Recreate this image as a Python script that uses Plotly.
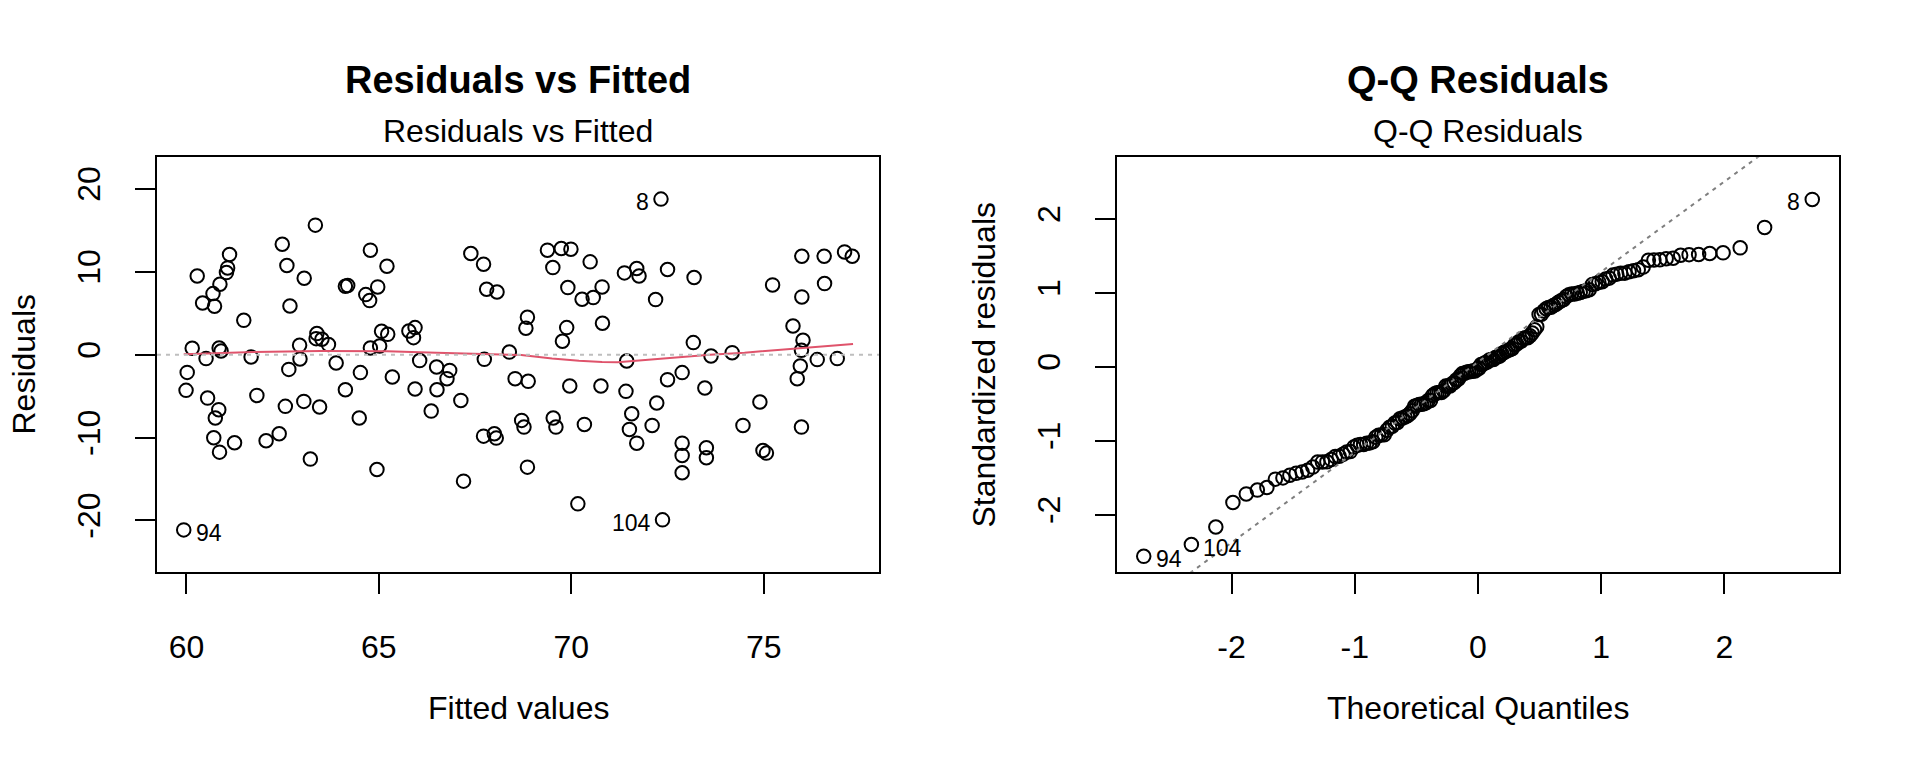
import numpy as np
import plotly.graph_objects as go
from statistics import NormalDist

# ---------------------------------------------------------------------------
# data read off the picture (one value per observation, observation order)
# ---------------------------------------------------------------------------
fitted_values = [
    60.28, 61.12, 61.07, 61.04, 60.87, 60.69, 60.42, 72.33, 60.73, 61.49,
    62.49, 62.61, 63.06, 62.69, 63.35, 64.78, 65.21, 64.13, 64.19, 64.66,
    64.76, 64.97, 60.15, 60.85, 60.90, 60.51, 61.68, 62.94, 62.95, 63.39,
    63.37, 63.52, 63.69, 63.89, 62.66, 64.78, 65.02, 65.07, 65.23, 65.78,
    65.94, 65.90, 66.06, 64.52, 65.35, 60.02, 59.99, 60.55, 60.84, 60.75,
    60.71, 60.86, 61.25, 61.83, 62.57, 63.05, 63.46, 64.13, 64.49, 62.41,
    62.07, 63.22, 64.95, 65.94, 66.36, 66.50, 66.51, 66.84, 66.77, 67.13,
    67.39, 67.72, 67.80, 68.07, 68.86, 68.82, 68.39, 67.74, 68.54, 68.88,
    68.71, 68.77, 67.72, 68.00, 68.05, 68.86, 69.38, 69.74, 69.99, 69.52,
    70.49, 69.91, 70.28, 59.93, 70.57, 70.80, 70.81, 69.88, 69.77, 69.96,
    70.77, 69.53, 69.60, 72.37, 70.34, 71.38, 71.70, 71.76, 72.50, 73.19,
    72.19, 71.44, 73.17, 73.63, 74.18, 72.88, 72.50, 73.47, 71.42, 72.22,
    71.57, 71.51, 71.70, 72.10, 72.88, 72.88, 72.88, 73.51, 73.51, 74.46,
    75.99, 76.57, 77.10, 77.30, 75.23, 76.58, 75.99, 75.76, 76.02, 75.98,
    75.95, 75.87, 76.39, 76.91, 74.90, 75.98, 67.20, 70.17, 74.98, 75.07,
]
residuals = [
    9.49, 12.08, 10.46, 9.90, 8.49, 7.36, 6.23, 18.76, 5.83, 4.14,
    13.32, 10.75, 9.21, 5.87, 15.62, 12.60, 10.66, 8.25, 8.33, 7.24,
    6.52, 8.17, 0.76, 0.80, 0.44, -0.48, -0.29, 1.12, -0.53, 2.54,
    1.93, 1.85, 1.21, -1.01, -1.78, 0.80, 1.04, 2.81, 2.45, 2.85,
    3.26, 2.05, -0.72, -2.17, -2.70, -2.14, -4.31, -5.24, -6.64, -7.65,
    -10.03, -11.76, -10.63, -4.92, -6.24, -5.64, -6.32, -4.23, -7.65, -9.54,
    -10.39, -12.60, -13.85, -4.15, -6.81, -1.49, -4.23, -1.90, -2.90, -5.52,
    12.20, 10.90, 7.89, 7.56, 4.50, 3.18, 0.31, -0.57, -2.90, -3.22,
    -7.93, -8.74, -9.83, -9.54, -10.07, -13.57, 12.60, 12.80, 12.72, 10.50,
    11.19, 8.09, 6.68, -21.14, 6.88, 8.17, 3.78, 3.26, 1.61, -3.79,
    -3.79, -7.65, -8.74, -19.93, -8.42, 9.86, 10.39, 9.49, 10.27, 9.30,
    6.64, -0.77, 1.45, -0.17, 0.24, -2.17, -3.02, -4.03, -4.43, -5.84,
    -7.13, -9.02, -10.68, -8.54, -10.68, -12.16, -14.25, -11.23, -12.44, -8.54,
    11.87, 11.87, 12.39, 11.87, 8.41, 8.57, 6.96, 3.46, 1.73, 0.52,
    -1.37, -2.90, -0.60, -0.48, -5.72, -8.74, -15.26, -18.00, -11.56, -11.88,
]

# red smoother as drawn in the picture
smooth_x = [59.93, 61.0, 61.75, 63.48, 65.21, 66.5, 67.7, 68.7, 69.5, 70.2,
            70.8, 71.2, 71.6, 72.6, 73.6, 74.5, 75.9, 77.32]
smooth_y = [0.05, 0.2, 0.32, 0.43, 0.4, 0.24, 0.12, -0.05, -0.48, -0.75,
            -0.89, -0.93, -0.77, -0.36, 0.0, 0.24, 0.72, 1.28]

fit_ticks = [60, 65, 70, 75]
res_ticks = [-20, -10, 0, 10, 20]
qq_ticks = [-2, -1, 0, 1, 2]

FONT = "Liberation Sans, Arial, Helvetica, sans-serif"
BASE = 32
RED = "#DF536B"

# ---------------------------------------------------------------------------
# derived quantities (as plot.lm does)
# ---------------------------------------------------------------------------
f = np.array(fitted_values)
r = np.array(residuals)
n = len(r)
s = np.sqrt(np.sum(r ** 2) / (n - 2))
hat = 1 / n + (f - f.mean()) ** 2 / np.sum((f - f.mean()) ** 2)
rs = r / (s * np.sqrt(1 - hat))

order = np.argsort(rs)
nd = NormalDist()
theo = np.empty(n)
theo[order] = [nd.inv_cdf((i + 0.5) / n) for i in range(n)]

q1, q3 = np.percentile(rs, [25, 75])
z1, z3 = nd.inv_cdf(0.25), nd.inv_cdf(0.75)
qq_slope = (q3 - q1) / (z3 - z1)
qq_int = q1 - qq_slope * z1

ids = np.argsort(-np.abs(rs))[:3]


def ext(lo, hi, frac=0.04):
    d = hi - lo
    return [lo - frac * d, hi + frac * d]


x1r = ext(f.min(), f.max())
lo, hi = r.min(), r.max()
y1r = ext(lo - 0.08 * (hi - lo), hi + 0.08 * (hi - lo))
x2r = ext(theo.min(), theo.max())
y2r = ext(rs.min(), rs.max() + 0.075 * (rs.max() - rs.min()))

# ---------------------------------------------------------------------------
fig = go.Figure()
circ = dict(symbol="circle-open", size=13.5, color="black", line=dict(width=2))

fig.add_trace(go.Scatter(x=fitted_values, y=residuals, mode="markers", marker=circ,
                         xaxis="x", yaxis="y", hoverinfo="skip"))
fig.add_trace(go.Scatter(x=smooth_x, y=smooth_y, mode="lines",
                         line=dict(color=RED, width=2), xaxis="x", yaxis="y"))
fig.add_trace(go.Scatter(x=theo, y=rs, mode="markers", marker=circ,
                         xaxis="x2", yaxis="y2", hoverinfo="skip"))
qx = np.array([x2r[0] - 1, x2r[1] + 1])
fig.add_trace(go.Scatter(x=qx, y=qq_int + qq_slope * qx, mode="lines",
                         line=dict(color="#7F7F7F", width=2, dash="4px,5px"),
                         xaxis="x2", yaxis="y2"))

fig.add_shape(type="line", xref="x domain", yref="y", x0=0, x1=1, y0=0, y1=0,
              line=dict(color="#BEBEBE", width=2, dash="4px,5px"))

ann = []
mid1 = sum(x1r) / 2
for i in ids:
    left = f[i] > mid1
    ann.append(dict(x=f[i], y=r[i], xref="x", yref="y", text=str(i + 1), showarrow=False,
                    xanchor="right" if left else "left", xshift=-10 if left else 10, yshift=-3,
                    font=dict(size=23)))
    left = theo[i] > 0
    ann.append(dict(x=theo[i], y=rs[i], xref="x2", yref="y2", text=str(i + 1), showarrow=False,
                    xanchor="right" if left else "left", xshift=-10 if left else 10, yshift=-3,
                    font=dict(size=23)))

W, H = 1920, 768
px1 = [157 / W, 879 / W]
px2 = [1117 / W, 1839 / W]
py = [(H - 571.7) / H, (H - 157.3) / H]
for dom, main, xt in ((px1, "Residuals vs Fitted", "Fitted values"),
                      (px2, "Q-Q Residuals", "Theoretical Quantiles")):
    c = sum(dom) / 2
    ann.append(dict(x=c, y=(H - 80) / H, xref="paper", yref="paper", text=f"<b>{main}</b>",
                    showarrow=False, font=dict(size=38), xanchor="center", yanchor="middle"))
    ann.append(dict(x=c, y=(H - 131) / H, xref="paper", yref="paper", text=main,
                    showarrow=False, font=dict(size=BASE), xanchor="center", yanchor="middle"))
    ann.append(dict(x=c, y=(H - 708) / H, xref="paper", yref="paper", text=xt,
                    showarrow=False, font=dict(size=BASE), xanchor="center", yanchor="middle"))
ycen = sum(py) / 2
ann.append(dict(x=23 / W, y=ycen, xref="paper", yref="paper", text="Residuals", textangle=-90,
                showarrow=False, font=dict(size=BASE), xanchor="center", yanchor="middle"))
ann.append(dict(x=983 / W, y=ycen, xref="paper", yref="paper", text="Standardized residuals",
                textangle=-90, showarrow=False, font=dict(size=BASE), xanchor="center",
                yanchor="middle"))

ax = dict(showline=True, linecolor="black", linewidth=2, mirror=True, ticks="outside",
          ticklen=20, tickwidth=2, tickcolor="black", showgrid=False, zeroline=False,
          tickfont=dict(size=BASE, color="black"))


def lab(v):
    return [str(t) for t in v]


fig.update_layout(
    width=W, height=H, margin=dict(l=0, r=0, t=0, b=0),
    paper_bgcolor="white", plot_bgcolor="white", showlegend=False,
    font=dict(family=FONT, color="black"),
    xaxis=dict(ax, domain=px1, range=x1r, tickvals=fit_ticks, ticktext=lab(fit_ticks),
               anchor="y", ticklabelstandoff=26),
    yaxis=dict(ax, domain=py, range=y1r, tickvals=res_ticks, ticktext=lab(res_ticks),
               anchor="x", tickangle=-90, ticklabelstandoff=22),
    xaxis2=dict(ax, domain=px2, range=x2r, tickvals=qq_ticks, ticktext=lab(qq_ticks),
                anchor="y2", ticklabelstandoff=26),
    yaxis2=dict(ax, domain=py, range=y2r, tickvals=qq_ticks, ticktext=lab(qq_ticks),
                anchor="x2", tickangle=-90, ticklabelstandoff=22),
    annotations=ann,
)
# page body has a default 8px margin; drop it so the figure sits at the window origin
fig.write_html("out.html", config={"displayModeBar": False},
               post_script="document.body.style.margin='0px';")
